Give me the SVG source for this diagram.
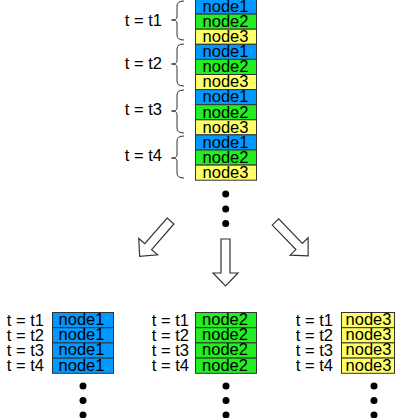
<svg xmlns="http://www.w3.org/2000/svg" width="402" height="418" viewBox="0 0 402 418">
<style>
text{font-family:"Liberation Sans",Arial,sans-serif;font-size:16.5px;fill:#000}
.c{text-anchor:middle}
.l{text-anchor:end}
.n1{fill:#0099ff;stroke:#333;stroke-width:1}
.n2{fill:#22ee22;stroke:#333;stroke-width:1}
.n3{fill:#ffff66;stroke:#333;stroke-width:1}
.br{fill:none;stroke:#333;stroke-width:1}
.ar{fill:#fff;stroke:#333;stroke-width:1.2;stroke-linejoin:miter}
.dot{fill:#000}
</style>
<defs>
<path id="arr" d="M -4.5,0 L 4.5,0 L 4.5,34 L 12.5,34 L 0,47 L -12.5,34 L -4.5,34 Z"/>
</defs>
<g id="stack">
<rect class="n1" x="195.5" y="-1" width="61" height="15.1"/><text class="c" x="225.5" y="11.8">node1</text>
<rect class="n2" x="195.5" y="14.1" width="61" height="15.1"/><text class="c" x="225.5" y="26.9">node2</text>
<rect class="n3" x="195.5" y="29.2" width="61" height="15.1"/><text class="c" x="225.5" y="42">node3</text>
<rect class="n1" x="195.5" y="44.3" width="61" height="15.1"/><text class="c" x="225.5" y="57.1">node1</text>
<rect class="n2" x="195.5" y="59.4" width="61" height="15.1"/><text class="c" x="225.5" y="72.2">node2</text>
<rect class="n3" x="195.5" y="74.5" width="61" height="15.1"/><text class="c" x="225.5" y="87.3">node3</text>
<rect class="n1" x="195.5" y="89.6" width="61" height="15.1"/><text class="c" x="225.5" y="102.4">node1</text>
<rect class="n2" x="195.5" y="104.7" width="61" height="15.1"/><text class="c" x="225.5" y="117.5">node2</text>
<rect class="n3" x="195.5" y="119.8" width="61" height="15.1"/><text class="c" x="225.5" y="132.6">node3</text>
<rect class="n1" x="195.5" y="134.9" width="61" height="15.1"/><text class="c" x="225.5" y="147.7">node1</text>
<rect class="n2" x="195.5" y="150" width="61" height="15.1"/><text class="c" x="225.5" y="162.8">node2</text>
<rect class="n3" x="195.5" y="165.1" width="61" height="15.1"/><text class="c" x="225.5" y="177.9">node3</text>
</g>
<g id="time-labels">
<text class="l" x="162" y="26">t = t1</text>
<text class="l" x="162" y="69">t = t2</text>
<text class="l" x="162" y="115">t = t3</text>
<text class="l" x="162" y="161">t = t4</text>
<path class="br" d="M184,1 Q177,1 177,6 L177,17 Q177,20 171.5,20 Q177,20 177,23 L177,35 Q177,40 184,40"/>
<path class="br" d="M184,44 Q177,44 177,49 L177,61 Q177,64 171.5,64 Q177,64 177,67 L177,81 Q177,86 184,86"/>
<path class="br" d="M184,90 Q177,90 177,95 L177,108 Q177,111 171.5,111 Q177,111 177,114 L177,128 Q177,133 184,133"/>
<path class="br" d="M184,136 Q177,136 177,141 L177,155 Q177,158 171.5,158 Q177,158 177,161 L177,173 Q177,178 184,178"/>
</g>
<g id="top-dots">
<circle class="dot" cx="225.7" cy="194" r="3.5"/>
<circle class="dot" cx="225.7" cy="209" r="3.5"/>
<circle class="dot" cx="225.7" cy="223.5" r="3.5"/>
</g>
<g id="connectors">
<use href="#arr" class="ar" transform="translate(170.5,221) rotate(41)"/>
<use href="#arr" class="ar" transform="translate(225.5,239)"/>
<use href="#arr" class="ar" transform="translate(275.5,222) rotate(-44)"/>
</g>
<g id="node1-series">
<text class="l" x="44" y="325.5">t = t1</text>
<text class="l" x="44" y="340.5">t = t2</text>
<text class="l" x="44" y="355.5">t = t3</text>
<text class="l" x="44" y="370.5">t = t4</text>
<rect class="n1" x="52.5" y="312.5" width="61" height="15.2"/><text class="c" x="81.5" y="325">node1</text>
<rect class="n1" x="52.5" y="327.7" width="61" height="15.2"/><text class="c" x="81.5" y="340.2">node1</text>
<rect class="n1" x="52.5" y="342.9" width="61" height="15.2"/><text class="c" x="81.5" y="355.4">node1</text>
<rect class="n1" x="52.5" y="358.1" width="61" height="15.2"/><text class="c" x="81.5" y="370.6">node1</text>
<circle class="dot" cx="83" cy="386" r="3.5"/>
<circle class="dot" cx="83" cy="400.5" r="3.5"/>
<circle class="dot" cx="83" cy="415" r="3.5"/>
</g>
<g id="node2-series">
<text class="l" x="189" y="325.5">t = t1</text>
<text class="l" x="189" y="340.5">t = t2</text>
<text class="l" x="189" y="355.5">t = t3</text>
<text class="l" x="189" y="370.5">t = t4</text>
<rect class="n2" x="195.5" y="312.5" width="61" height="15.2"/><text class="c" x="225" y="325">node2</text>
<rect class="n2" x="195.5" y="327.7" width="61" height="15.2"/><text class="c" x="225" y="340.2">node2</text>
<rect class="n2" x="195.5" y="342.9" width="61" height="15.2"/><text class="c" x="225" y="355.4">node2</text>
<rect class="n2" x="195.5" y="358.1" width="61" height="15.2"/><text class="c" x="225" y="370.6">node2</text>
<circle class="dot" cx="226" cy="386" r="3.5"/>
<circle class="dot" cx="226" cy="400.5" r="3.5"/>
<circle class="dot" cx="226" cy="415" r="3.5"/>
</g>
<g id="node3-series">
<text class="l" x="333" y="325.5">t = t1</text>
<text class="l" x="333" y="340.5">t = t2</text>
<text class="l" x="333" y="355.5">t = t3</text>
<text class="l" x="333" y="370.5">t = t4</text>
<rect class="n3" x="341.5" y="312.5" width="53" height="15.2"/><text class="c" x="368.5" y="325">node3</text>
<rect class="n3" x="341.5" y="327.7" width="53" height="15.2"/><text class="c" x="368.5" y="340.2">node3</text>
<rect class="n3" x="341.5" y="342.9" width="53" height="15.2"/><text class="c" x="368.5" y="355.4">node3</text>
<rect class="n3" x="341.5" y="358.1" width="53" height="15.2"/><text class="c" x="368.5" y="370.6">node3</text>
<circle class="dot" cx="374" cy="386" r="3.5"/>
<circle class="dot" cx="374" cy="400.5" r="3.5"/>
<circle class="dot" cx="374" cy="415" r="3.5"/>
</g>
</svg>
